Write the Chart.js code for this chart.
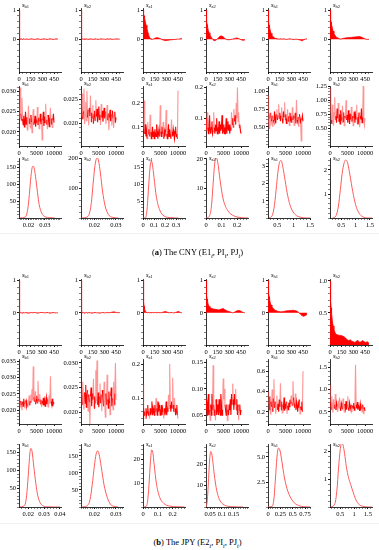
<!DOCTYPE html>
<html><head><meta charset="utf-8">
<script src="https://cdn.jsdelivr.net/npm/chart.js@4.4.0/dist/chart.umd.min.js"></script>
<style>
body{margin:0;background:#fff;width:379px;height:550px;position:relative;overflow:hidden;font-family:"Liberation Serif",serif}
canvas{position:absolute}
.t{position:absolute;font-size:6.5px;line-height:1;color:#000;white-space:nowrap}
.t i{font-style:italic}
.t sub{font-size:4.5px;vertical-align:-1px}
.cap{position:absolute;left:8px;width:379px;text-align:center;font-size:8.5px;color:#000;white-space:nowrap}
.cap sub{font-size:6px;font-style:italic}
.sep{position:absolute;left:0;width:379px;height:1px;background:#f0f0f0}
</style></head><body>
<script>
// ---------- data ----------
const seriesNames = ['b1','b2','a1','a2','h1','h2'];
const lags = [0,5,10,15,20,30,40,50,60,70,80,90,100,120,140,160,180,200,220,240,260,280,300,320,340,360,380,400,420,440,460,480,500];
// autocorrelations (a) CNY
const acfA_b1 = [1,0.06,0.02,0.01,0,0.01,-0.01,0,0.01,0,-0.01,0,0.01,-0.01,0,0.01,0,-0.01,0,0.01,0,-0.01,0,0.01,0,-0.01,0,0.01,0,-0.01,0,0.01,0];
const acfA_b2 = [1,0.08,0.02,0,0.01,0,0.01,-0.01,0,0.01,0,-0.01,0,0.01,0,-0.01,0.01,0,-0.01,0,0.01,0,0,-0.01,0.01,0,0.01,-0.01,0,0,0.01,0,0];
const acfA_a1 = [1,0.93,0.86,0.8,0.73,0.6,0.48,0.37,0.27,0.17,0.09,0.03,0,-0.01,0.01,0.04,0.05,0.04,0.02,-0.01,-0.03,-0.05,-0.05,-0.04,-0.03,-0.02,-0.02,-0.01,-0.01,0,0,0.01,0.02];
const acfA_a2 = [1,0.8,0.62,0.5,0.42,0.3,0.22,0.15,0.1,0.06,0.02,-0.02,-0.04,-0.05,-0.01,0.05,0.1,0.11,0.08,0.03,-0.01,-0.02,-0.02,-0.01,0,0.01,0.03,0.04,0.02,-0.01,-0.03,-0.04,-0.03];
const acfA_h1 = [1,0.78,0.6,0.48,0.4,0.28,0.2,0.14,0.1,0.07,0.05,0.03,0.02,0.01,0,0.01,0,0.01,0,-0.01,0,0.01,0,-0.01,-0.01,0,-0.01,-0.02,-0.04,-0.06,-0.02,0,0.01];
const acfA_h2 = [1,0.82,0.68,0.58,0.5,0.38,0.28,0.21,0.15,0.11,0.08,0.05,0.03,0.01,0,0.02,0.03,0.04,0.05,0.05,0.06,0.06,0.07,0.07,0.08,0.08,0.09,0.07,0.05,0.02,0,-0.01,-0.01];
// autocorrelations (b) JPY
const acfB_b1 = [1,0.05,0.01,0,0.01,0,-0.01,0,0.01,0,0,0.01,0,-0.01,0,0.01,0,0.01,0,-0.01,0,0.01,0.01,0,0,0.01,0,-0.01,0,0.01,0,0,0];
const acfB_b2 = [1,0.07,0.02,0.01,0,0.01,-0.01,0,0,0.01,-0.01,0,0.01,0,-0.01,0,0.01,0,0,-0.01,0,0.01,0,0,0.01,0,0.01,0.02,0.03,0.02,0.01,0,0.01];
const acfB_a1 = [1,0.6,0.35,0.2,0.12,0.05,0.02,0.01,0,0.01,0,0.01,0,0.01,0,0.01,0,0.01,0,0.01,0.02,0.04,0.03,0.01,0,0.01,0,0,0.01,0.03,0.04,0.01,0];
const acfB_a2 = [1,0.75,0.55,0.42,0.35,0.25,0.2,0.17,0.15,0.14,0.13,0.12,0.12,0.11,0.1,0.09,0.1,0.12,0.13,0.1,0.07,0.05,0.04,0.02,0,0.01,0.04,0.06,0.07,0.06,0.03,0.01,0];
const acfB_h1 = [1,0.8,0.62,0.5,0.42,0.3,0.24,0.2,0.16,0.13,0.1,0.08,0.07,0.05,0.04,0.03,0.03,0.04,0.05,0.06,0.06,0.07,0.07,0.08,0.07,0.06,0.04,0,-0.05,-0.09,-0.11,-0.08,-0.06];
const acfB_h2 = [1,0.85,0.7,0.58,0.5,0.38,0.3,0.25,0.21,0.18,0.17,0.16,0.16,0.15,0.15,0.14,0.13,0.11,0.08,0.07,0.08,0.06,0.05,0.04,0.06,0.07,0.04,0.05,0.07,0.05,0.04,0.05,0.03];

// sample paths (a) CNY, 60 draws over 10000 iterations
const trA_b1 = [0.0235,0.0262,0.0310,0.0245,0.0228,0.0285,0.0232,0.0218,0.0240,0.0212,0.0226,0.0250,0.0219,0.0236,0.0205,0.0228,0.0265,0.0221,0.0233,0.0210,0.0242,0.0224,0.0198,0.0231,0.0256,0.0218,0.0227,0.0240,0.0213,0.0230,0.0222,0.0262,0.0217,0.0235,0.0208,0.0226,0.0245,0.0219,0.0232,0.0180,0.0228,0.0250,0.0215,0.0238,0.0222,0.0270,0.0219,0.0230,0.0207,0.0242,0.0225,0.0213,0.0236,0.0260,0.0220,0.0233,0.0211,0.0229,0.0245,0.0223];
const trA_b2 = [0.0215,0.0235,0.0262,0.0208,0.0225,0.0272,0.0198,0.0219,0.0245,0.0205,0.0268,0.0212,0.0228,0.0195,0.0232,0.0215,0.0258,0.0203,0.0222,0.0210,0.0238,0.0199,0.0218,0.0226,0.0205,0.0248,0.0214,0.0230,0.0202,0.0221,0.0235,0.0208,0.0217,0.0196,0.0240,0.0212,0.0226,0.0203,0.0219,0.0232,0.0210,0.0224,0.0198,0.0215,0.0238,0.0206,0.0220,0.0185,0.0212,0.0228,0.0204,0.0218,0.0195,0.0226,0.0210,0.0190,0.0216,0.0224,0.0201,0.0212];
const trA_a1 = [0.14,0.09,0.21,0.07,0.11,0.06,0.08,0.05,0.12,0.07,0.09,0.06,0.15,0.08,0.05,0.07,0.10,0.06,0.08,0.05,0.09,0.07,0.06,0.11,0.08,0.05,0.07,0.09,0.06,0.19,0.08,0.06,0.10,0.07,0.12,0.05,0.08,0.06,0.09,0.17,0.07,0.05,0.08,0.11,0.06,0.09,0.07,0.05,0.13,0.08,0.06,0.09,0.07,0.05,0.08,0.10,0.06,0.07,0.05,0.25];
const trA_a2 = [0.10,0.06,0.12,0.07,0.05,0.08,0.11,0.06,0.05,0.07,0.09,0.05,0.06,0.12,0.07,0.05,0.08,0.06,0.10,0.05,0.07,0.06,0.09,0.05,0.08,0.06,0.07,0.11,0.05,0.06,0.08,0.05,0.07,0.06,0.10,0.05,0.07,0.09,0.06,0.08,0.05,0.07,0.06,0.12,0.08,0.10,0.07,0.13,0.09,0.11,0.08,0.15,0.10,0.20,0.09,0.12,0.07,0.08,0.06,0.05];
const trA_h1 = [0.95,0.55,0.48,0.62,0.70,0.52,0.58,0.66,0.50,0.60,0.57,0.72,0.62,0.55,0.68,0.75,0.60,0.66,0.82,0.62,0.70,0.58,0.66,0.78,0.62,0.55,0.72,0.64,0.85,0.60,0.68,0.55,0.62,0.75,0.58,0.65,0.52,0.70,0.60,0.63,0.56,0.78,0.60,0.66,0.52,0.62,0.70,0.55,0.88,0.60,0.57,0.64,0.50,0.68,0.62,0.55,0.30,0.60,0.66,0.58];
const trA_h2 = [0.80,1.22,0.65,0.58,0.92,0.70,0.55,0.78,1.05,0.66,0.72,0.60,0.85,0.68,0.95,0.62,0.75,0.58,0.82,0.70,0.66,0.90,0.62,0.78,0.55,0.72,0.68,1.00,0.65,0.74,0.60,0.82,0.70,0.58,0.76,0.66,0.88,0.62,0.72,0.55,0.68,0.80,0.60,0.74,0.66,0.92,0.58,0.70,0.64,0.78,0.52,0.72,0.66,0.85,0.60,0.70,1.25,0.62,0.55,0.68];
// sample paths (b) JPY
const trB_b1 = [0.0238,0.0222,0.0210,0.0228,0.0215,0.0200,0.0226,0.0212,0.0235,0.0218,0.0205,0.0224,0.0230,0.0212,0.0220,0.0208,0.0225,0.0245,0.0215,0.0228,0.0248,0.0222,0.0265,0.0230,0.0335,0.0240,0.0226,0.0258,0.0218,0.0232,0.0244,0.0221,0.0290,0.0235,0.0226,0.0250,0.0219,0.0232,0.0210,0.0228,0.0222,0.0238,0.0215,0.0230,0.0212,0.0226,0.0240,0.0218,0.0233,0.0210,0.0228,0.0246,0.0220,0.0305,0.0226,0.0218,0.0235,0.0212,0.0224,0.0220];
const trB_b2 = [0.0232,0.0248,0.0215,0.0262,0.0226,0.0205,0.0240,0.0218,0.0255,0.0210,0.0228,0.0245,0.0202,0.0236,0.0220,0.0175,0.0232,0.0250,0.0212,0.0238,0.0226,0.0268,0.0208,0.0232,0.0218,0.0285,0.0222,0.0305,0.0215,0.0240,0.0210,0.0232,0.0258,0.0218,0.0236,0.0202,0.0245,0.0228,0.0212,0.0262,0.0220,0.0190,0.0238,0.0215,0.0276,0.0226,0.0208,0.0242,0.0218,0.0195,0.0233,0.0250,0.0212,0.0228,0.0205,0.0262,0.0215,0.0238,0.0300,0.0225];
const trB_a1 = [0.14,0.07,0.05,0.06,0.04,0.07,0.05,0.06,0.08,0.05,0.06,0.04,0.07,0.05,0.06,0.09,0.05,0.07,0.06,0.05,0.08,0.06,0.10,0.07,0.05,0.09,0.06,0.08,0.07,0.05,0.06,0.08,0.05,0.07,0.06,0.04,0.07,0.05,0.06,0.09,0.05,0.07,0.06,0.11,0.07,0.20,0.08,0.06,0.09,0.07,0.16,0.08,0.06,0.10,0.07,0.05,0.06,0.08,0.05,0.04];
const trB_a2 = [0.06,0.08,0.05,0.07,0.09,0.05,0.06,0.04,0.07,0.05,0.09,0.06,0.145,0.07,0.05,0.06,0.04,0.08,0.05,0.07,0.06,0.05,0.08,0.06,0.05,0.09,0.07,0.05,0.06,0.12,0.08,0.10,0.07,0.06,0.05,0.07,0.04,0.06,0.05,0.07,0.06,0.08,0.05,0.09,0.07,0.11,0.08,0.06,0.09,0.07,0.10,0.06,0.08,0.05,0.07,0.04,0.06,0.07,0.05,0.06];
const trB_h1 = [0.28,0.40,0.22,0.35,0.18,0.30,0.25,0.42,0.20,0.33,0.52,0.24,0.30,0.18,0.26,0.36,0.22,0.28,0.20,0.32,0.25,0.48,0.22,0.30,0.19,0.27,0.24,0.34,0.21,0.28,0.23,0.30,0.18,0.26,0.22,0.29,0.25,0.32,0.28,0.36,0.30,0.26,0.50,0.34,0.28,0.24,0.38,0.22,0.30,0.26,0.20,0.28,0.24,0.32,0.18,0.25,0.22,0.30,0.20,0.60];
const trB_h2 = [1.10,0.72,0.55,0.85,0.62,0.48,0.78,0.58,0.66,0.90,0.54,0.70,0.62,0.50,0.75,0.58,0.82,0.60,0.52,0.70,0.64,0.56,0.80,0.62,0.50,0.68,0.58,0.74,0.55,0.66,0.85,0.60,0.52,0.70,0.62,0.56,0.66,0.50,0.64,0.58,0.70,0.54,0.62,1.55,0.66,0.58,0.72,0.55,0.64,0.60,0.52,0.68,0.58,0.62,0.50,0.66,0.56,0.45,0.60,0.52];
const iterLast = 10000;

// posterior densities (a) CNY
const dnA_b1_x = [0.0145,0.0180,0.0195,0.0205,0.0215,0.0222,0.0228,0.0235,0.0245,0.0255,0.0265,0.0280,0.0300,0.0330,0.0360];
const dnA_b1_y = [0,3,25,70,125,150,155,148,115,75,40,15,4,1,0];
const dnA_b2_x = [0.0140,0.0170,0.0185,0.0195,0.0203,0.0210,0.0215,0.0220,0.0228,0.0238,0.0250,0.0265,0.0285,0.0310];
const dnA_b2_y = [0,5,45,120,175,198,200,190,150,90,40,12,2,0];
const dnA_a1_x = [0.0,0.02,0.035,0.05,0.065,0.075,0.085,0.1,0.12,0.15,0.19,0.25,0.32];
const dnA_a1_y = [0,0,2,9,15.5,17,16,12,6.5,2.5,0.6,0.1,0];
const dnA_a2_x = [0.0,0.02,0.035,0.045,0.055,0.065,0.075,0.09,0.11,0.14,0.18,0.23,0.27];
const dnA_a2_y = [0,0.5,4,11,18,20.5,19,13,6.5,2.5,0.7,0.1,0];
const dnA_h1_x = [0.25,0.35,0.42,0.48,0.53,0.58,0.62,0.67,0.74,0.82,0.92,1.05,1.2,1.4,1.5];
const dnA_h1_y = [0,0.15,0.8,1.9,2.8,3.3,3.35,3.0,2.2,1.3,0.6,0.2,0.05,0,0];
const dnA_h2_x = [0.2,0.32,0.4,0.47,0.53,0.6,0.66,0.72,0.8,0.9,1.0,1.12,1.25,1.4,1.57];
const dnA_h2_y = [0,0.1,0.5,1.2,1.85,2.3,2.42,2.3,1.8,1.1,0.55,0.2,0.05,0,0];
// posterior densities (b) JPY
const dnB_b1_x = [0.0145,0.017,0.0185,0.0195,0.0205,0.0212,0.0218,0.0225,0.0235,0.0248,0.026,0.0275,0.0295,0.032,0.036,0.0400];
const dnB_b1_y = [0,2,15,55,115,152,160,150,112,65,32,12,3,0.5,0,0];
const dnB_b2_x = [0.0140,0.0165,0.018,0.019,0.020,0.0208,0.0215,0.0222,0.0232,0.0245,0.026,0.0275,0.029,0.031];
const dnB_b2_y = [0,3,22,65,120,155,165,155,118,65,28,8,2,0];
const dnB_a1_x = [0.0,0.02,0.03,0.04,0.05,0.058,0.066,0.075,0.09,0.11,0.14,0.18,0.23,0.28];
const dnB_a1_y = [0,0.2,2,9,19,24,23,18,10,4.5,1.5,0.4,0.1,0];
const dnB_a2_x = [0.033,0.038,0.043,0.048,0.053,0.057,0.062,0.068,0.076,0.086,0.1,0.12,0.15,0.19];
const dnB_a2_y = [0,3,12,22,26,25,21,15,9,4.5,1.8,0.5,0.1,0];
const dnB_h1_x = [0.0,0.08,0.12,0.15,0.18,0.21,0.24,0.28,0.33,0.4,0.5,0.62,0.75,0.85];
const dnB_h1_y = [0,0.05,0.8,2.8,4.9,5.9,5.7,4.6,3.0,1.6,0.6,0.15,0.02,0];
const dnB_h2_x = [0.15,0.3,0.38,0.44,0.5,0.55,0.6,0.66,0.72,0.8,0.88,0.96,1.05,1.15,1.3,1.5,1.64];
const dnB_h2_y = [0,0.1,0.6,1.4,2.05,2.3,2.22,1.9,1.45,1.05,0.8,0.55,0.3,0.12,0.03,0,0];

// tick labels
const acfXTicks = ['0','150','300','450'];
const acfYTicks = ['0','1'];
const acfYTicksB6 = ['0.5','1.0'];
const trXTicks = ['0','5000','10000'];

// ---------- layout ----------
const COLX = [19,81,143,206,268,330];
const ROWS = [
  {top:8,bottom:72,titleY:2},
  {top:86,bottom:146,titleY:80},
  {top:158,bottom:218,titleY:155},
  {top:279,bottom:345,titleY:272},
  {top:359,bottom:424,titleY:353},
  {top:444,bottom:507,titleY:441}
];

function mkTicks(labels, step, min, max){
  const out = labels.map(l=>({value:parseFloat(l), lbl:l}));
  if(step){
    for(let k=Math.ceil(min/step-1e-9); k*step<=max+1e-12; k++){
      const v = +(k*step).toFixed(10);
      if(!out.some(o=>Math.abs(o.value-v)<step*0.01)) out.push({value:v, lbl:''});
    }
  }
  return out.filter(o=>o.value>=min-1e-12 && o.value<=max+1e-12).sort((a,b)=>a.value-b.value);
}
function axis(isX, min, max, labels, step, size){
  return {
    type:'linear', min, max, position: isX?'bottom':'left',
    afterBuildTicks(s){ s.ticks = mkTicks(labels, step, min, max); },
    afterFit(s){ if(isX){ s.height=size; s.paddingLeft=0; s.paddingRight=0; } else { s.width=size; s.paddingTop=0; s.paddingBottom=0; } },
    grid:{drawOnChartArea:false, drawTicks:true, tickLength:2, tickColor:'#000',
          tickWidth:(c)=> (c.tick && c.tick.lbl) ? 0.9 : 0.5},
    border:{display:true, color:'#000', width:0.8},
    ticks:{autoSkip:false, maxRotation:0, minRotation:0, padding:1, color:'#000',
           font:{family:'Liberation Serif', size:6.5},
           callback:(v,i,t)=> t[i].lbl}
  };
}

const acfSets = [[acfA_b1,acfA_b2,acfA_a1,acfA_a2,acfA_h1,acfA_h2],[acfB_b1,acfB_b2,acfB_a1,acfB_a2,acfB_h1,acfB_h2]];
const trSets = [[trA_b1,trA_b2,trA_a1,trA_a2,trA_h1,trA_h2],[trB_b1,trB_b2,trB_a1,trB_a2,trB_h1,trB_h2]];
const dnSets = [
  [[dnA_b1_x,dnA_b1_y],[dnA_b2_x,dnA_b2_y],[dnA_a1_x,dnA_a1_y],[dnA_a2_x,dnA_a2_y],[dnA_h1_x,dnA_h1_y],[dnA_h2_x,dnA_h2_y]],
  [[dnB_b1_x,dnB_b1_y],[dnB_b2_x,dnB_b2_y],[dnB_a1_x,dnB_a1_y],[dnB_a2_x,dnB_a2_y],[dnB_h1_x,dnB_h1_y],[dnB_h2_x,dnB_h2_y]]
];
// trace y axes: [min,max,labels,minorStep]
const trY = [
  [[0.0165,0.0314,['0.020','0.025','0.030'],0.001],[0.0152,0.0278,['0.020','0.025'],0.001],[0.02,0.27,['0.1','0.2'],0.02],
   [0.01,0.205,['0.1','0.2'],0.02],[0.23,1.08,['0.50','0.75','1.00'],0.05],[0.19,1.25,['0.50','0.75','1.00','1.25'],0.05]],
  [[0.0157,0.0358,['0.020','0.025','0.030','0.035'],0.001],[0.0176,0.0308,['0.020','0.025','0.030'],0.001],[0.024,0.215,['0.1','0.2'],0.02],
   [0.033,0.157,['0.05','0.10','0.15'],0.01],[0.08,0.72,['0.2','0.4','0.6'],0.05],[0.23,1.68,['0.5','1.0','1.5'],0.1]]
];
// density axes: x [min,max,labels,minor], y [max,labels,minor]
const dnX = [
  [[0.0142,0.0398,['0.02','0.03'],0.001],[0.0138,0.0333,['0.02','0.03'],0.001],[0,0.38,['0','0.1','0.2','0.3'],0.02],
   [0,0.27,['0','0.1','0.2'],0.02],[0.22,1.5,['0.5','1','1.5'],0.1],[0.107,1.57,['0.5','1','1.5'],0.1]],
  [[0.0142,0.0407,['0.02','0.03','0.04'],0.002],[0.0138,0.0333,['0.02','0.03'],0.001],[0,0.283,['0','0.1','0.2'],0.02],
   [0.0326,0.211,['0.05','0.1','0.15'],0.01],[0,0.85,['0','0.25','0.5','0.75'],0.05],[0.13,1.65,['0.5','1','1.5'],0.1]]
];
const dnY = [
  [[179,['50','100','150'],10],[200,['100','200'],20],[17.9,['5','10','15'],1],[20.3,['10','20'],2],[3.5,['1','2','3'],0.2],[2.5,['1','2'],0.2]],
  [[172,['50','100','150'],10],[185,['50','100','150'],10],[26.5,['10','20'],2],[29.5,['10','20'],2],[6.3,['2.5','5.0'],0.5],[2.25,['1','2'],0.2]]
];

function quantile(arr, q){ const s=[...arr].sort((a,b)=>a-b); return s[Math.floor(q*(s.length-1))]; }

function addChart(rowIdx, col, datasets, xA, yA){
  const g = ROWS[rowIdx], ax = COLX[col];
  const PW = 42, YW = 22, RP = 10, TP = 5, XH = 11;
  const W = YW+PW+RP, H = TP+(g.bottom-g.top)+XH;
  const c = document.createElement('canvas');
  c.width=W; c.height=H;
  c.style.left=(ax-YW)+'px'; c.style.top=(g.top-TP)+'px';
  c.style.width=W+'px'; c.style.height=H+'px';
  document.body.appendChild(c);
  new Chart(c, {
    type:'line',
    data:{datasets},
    options:{
      responsive:false, animation:false, devicePixelRatio:1,
      layout:{padding:{left:0,right:RP,top:TP,bottom:0}},
      plugins:{legend:{display:false}, tooltip:{enabled:false}},
      scales:{ x: axis(true, ...xA, XH), y: axis(false, ...yA, YW) }
    }
  });
  const t = document.createElement('div');
  t.className='t';
  t.style.left=(ax+3)+'px'; t.style.top=g.titleY+'px';
  t.innerHTML='<i>s</i><sub>'+seriesNames[col]+'</sub>';
  document.body.appendChild(t);
}

for(let grp=0; grp<2; grp++){
  for(let col=0; col<6; col++){
    // autocorrelation
    const acf = acfSets[grp][col];
    const yA = (grp===1 && col===5) ? [0,1.03,acfYTicksB6,0.1] : (grp===0 ? [-1.13,1.07,acfYTicks,0.2] : [-1.0,1.05,acfYTicks,0.2]);
    addChart(grp*3, col, [{
      data: lags.map((x,i)=>({x, y:acf[i]})),
      borderColor:'#ff0000', backgroundColor:'#ff0000', fill:'origin',
      borderWidth:0.8, pointRadius:0, tension:0
    }], [0,540,acfXTicks,50], yA);
    // trace: dense core in red, excursions lighter
    const tr = trSets[grp][col];
    const lo = quantile(tr,0.12), hi = quantile(tr,0.85);
    addChart(grp*3+1, col, [{
      data: tr.map((y,i)=>({x: i*iterLast/(tr.length-1), y})),
      borderColor:'#ff0000', borderWidth:1.1, pointRadius:0, tension:0, fill:false,
      segment:{ borderColor: ctx => {
        const a = ctx.p0.parsed.y, b = ctx.p1.parsed.y;
        return (Math.max(a,b) > hi || Math.min(a,b) < lo) ? 'rgba(255,60,60,0.55)' : '#ff0000';
      }}
    }], [0,12000,trXTicks,2500], trY[grp][col]);
    // density
    const [dx,dy] = dnSets[grp][col];
    const xr = dnX[grp][col], yr = dnY[grp][col];
    addChart(grp*3+2, col, [{
      data: dx.map((x,i)=>({x, y:dy[i]})),
      borderColor:'#ff5a5a', borderWidth:1, pointRadius:0, tension:0.4, cubicInterpolationMode:'monotone', fill:false
    }], xr, [0, yr[0], yr[1], yr[2]]);
  }
}
</script>
<div class="sep" style="top:233px"></div>
<div class="cap" style="top:247px">(<b>a</b>) The CNY (E1<sub>t</sub>, PI<sub>t</sub>, PJ<sub>t</sub>)</div>
<div class="sep" style="top:523px"></div>
<div class="cap" style="top:537px">(<b>b</b>) The JPY (E2<sub>t</sub>, PI<sub>t</sub>, PJ<sub>t</sub>)</div>
</body></html>
